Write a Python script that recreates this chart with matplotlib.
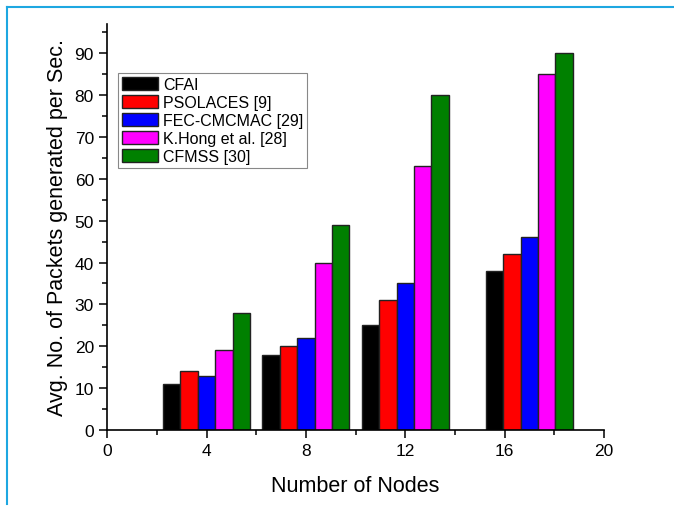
import numpy as np
import matplotlib.pyplot as plt
from matplotlib.lines import Line2D

plt.rcParams['font.family'] = ['Liberation Sans', 'DejaVu Sans']

nodes = [4, 8, 12, 17]
tick_vals = [0, 4, 8, 12, 16, 20]
methods = ["CFAI", "PSOLACES [9]", "FEC-CMCMAC [29]", "K.Hong et al. [28]", "CFMSS [30]"]
colors = ["#000000", "#FF0000", "#0000FF", "#FF00FF", "#008000"]

cfai = [11, 18, 25, 38]
psolaces = [14, 20, 31, 42]
fec_cmcmac = [13, 22, 35, 46]
khong = [19, 40, 63, 85]
cfmss = [28, 49, 80, 90]
series = [cfai, psolaces, fec_cmcmac, khong, cfmss]

fig = plt.figure(figsize=(6.74, 5.10), dpi=100)
ax = fig.add_axes([0.159, 0.155, 0.737, 0.796])

width = 0.7
x = np.array(nodes, dtype=float)
for i, (vals, name, c) in enumerate(zip(series, methods, colors)):
    ax.bar(x + (i - 2) * width, vals, width, color=c, edgecolor="#222222",
           linewidth=1.0, label=name)

ax.set_xlim(0, 20)
ax.set_ylim(0, 97)
ax.set_xticks(tick_vals)
ax.set_xticks(np.arange(2, 20, 4), minor=True)
ax.set_yticks(np.arange(0, 91, 10))
ax.set_yticks(np.arange(5, 96, 10), minor=True)
ax.tick_params(which="major", direction="out", length=6, width=1.1, labelsize=12.5)
ax.tick_params(which="minor", direction="out", length=3.5, width=1.1)

for s in ["top", "right"]:
    ax.spines[s].set_visible(False)
for s in ["left", "bottom"]:
    ax.spines[s].set_linewidth(1.2)

ax.set_xlabel("Number of Nodes", fontsize=15.5, labelpad=12)
ax.set_ylabel("Avg. No. of Packets generated per Sec.", fontsize=15.5, labelpad=5)

leg = ax.legend(loc="upper left", bbox_to_anchor=(0.022, 0.879), borderaxespad=0,
                fontsize=11.5, handlelength=2.25, handleheight=0.9, handletextpad=0.3,
                labelspacing=0.18, borderpad=0.25, fancybox=False, framealpha=1,
                edgecolor="#888888")
leg.get_frame().set_linewidth(0.8)

# light blue frame around the figure (top and left)
fig.add_artist(Line2D([0.0105, 1.0], [0.984, 0.984], transform=fig.transFigure,
                      color="#1EA7E1", linewidth=1.5))
fig.add_artist(Line2D([0.0105, 0.0105], [0.01, 0.984], transform=fig.transFigure,
                      color="#1EA7E1", linewidth=1.5))

fig.savefig("out.png", dpi=100)
